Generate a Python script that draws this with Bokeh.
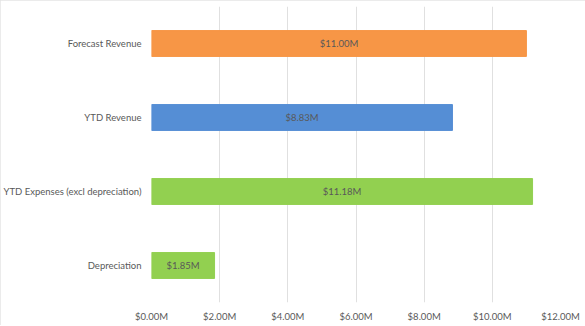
from bokeh.plotting import figure
from bokeh.models import ColumnDataSource, Range1d, FixedTicker, PrintfTickFormatter, LabelSet
from bokeh.core.properties import value
from bokeh.embed import file_html
from bokeh.resources import INLINE

categories = ["Forecast Revenue", "YTD Revenue", "YTD Expenses (excl depreciation)", "Depreciation"]
values_m = [11.00, 8.83, 11.18, 1.85]
colors = ["#F79646", "#558ED5", "#92D050", "#92D050"]
x_ticks = [0, 2, 4, 6, 8, 10, 12]

labels = ["$%.2fM" % v for v in values_m]
src = ColumnDataSource(dict(cat=categories, val=values_m, color=colors,
                            half=[v / 2 for v in values_m], label=labels))

FONT = "Lato"
GRAY = "#595959"
FS = "9.5px"

p = figure(width=585, height=325, y_range=list(reversed(categories)),
           x_range=Range1d(0, 12), output_backend="svg", toolbar_location=None,
           min_border_left=151, min_border_right=25, min_border_top=6, min_border_bottom=23)
p.styles = {"outline": "1px solid #E4E4E4", "outline-offset": "-1px"}

p.hbar(y="cat", right="val", left=0, height=0.35, fill_color="color",
       line_color="color", source=src)

lbl = LabelSet(x="half", y="cat", text="label", source=src, text_align="center",
               text_baseline="middle", text_font=value(FONT), text_font_size=FS,
               text_color=GRAY)
p.add_layout(lbl)

p.xaxis.ticker = FixedTicker(ticks=x_ticks)
p.xaxis.formatter = PrintfTickFormatter(format="$%.2fM")
p.xaxis.axis_line_color = None
p.xaxis.major_tick_line_color = None
p.xaxis.minor_tick_line_color = None
p.xaxis.major_tick_out = 0
p.xaxis.minor_tick_out = 0
p.xaxis.major_label_text_font = FONT
p.xaxis.major_label_text_font_size = FS
p.xaxis.major_label_text_color = GRAY
p.xaxis.major_label_standoff = 8

p.yaxis.axis_line_color = None
p.yaxis.major_tick_line_color = None
p.yaxis.minor_tick_line_color = None
p.yaxis.major_tick_out = 0
p.yaxis.minor_tick_out = 0
p.yaxis.major_label_text_font = FONT
p.yaxis.major_label_text_font_size = FS
p.yaxis.major_label_text_color = GRAY
p.yaxis.major_label_standoff = 10

p.xgrid.grid_line_color = "#E0E0E0"
p.ygrid.grid_line_color = None
p.outline_line_color = None
p.background_fill_color = "white"
p.border_fill_color = "white"

open("out.html", "w").write(file_html(p, INLINE))
